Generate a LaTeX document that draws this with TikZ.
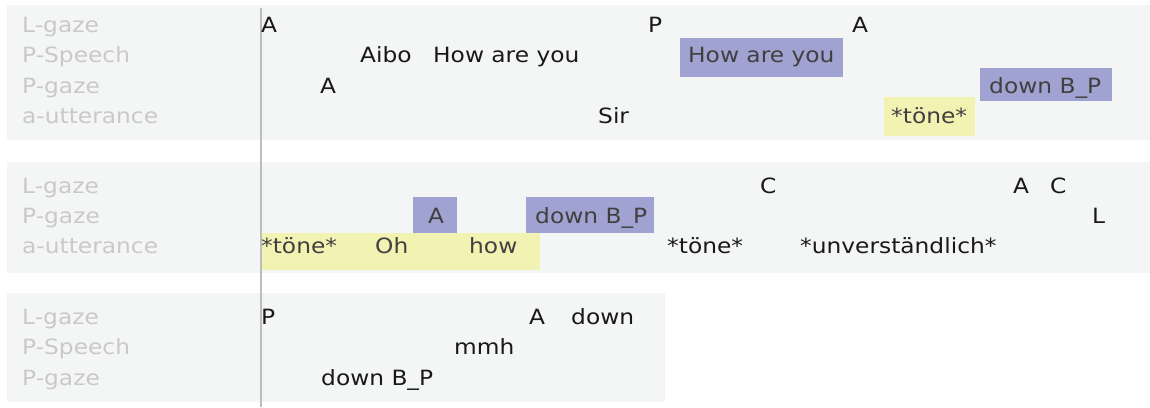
\documentclass[tikz,border=0pt]{standalone}
\usepackage{fontspec}
\setmainfont{DejaVu Sans}[FakeStretch=1.11]
\definecolor{bandgray}{HTML}{F4F5F5}
\definecolor{lablgray}{HTML}{C9C9C9}
\definecolor{segblue}{HTML}{A0A3D1}
\definecolor{segyellow}{HTML}{F2F2B3}
\definecolor{ticgray}{HTML}{BDBDBD}
\tikzstyle{every picture} = [x=1pt, y=-1pt]
\tikzstyle{tier} = [anchor=base west, inner sep=0pt, text=lablgray, font=\fontsize{21}{25}\selectfont]
\tikzstyle{tok} = [anchor=base west, inner sep=0pt, text=black!90, font=\fontsize{21}{25}\selectfont]
\tikzstyle{boxtok} = [tok, text=black!75]

\begin{document}
\begin{tikzpicture}
            \useasboundingbox (0,0) rectangle (1150,407);
            % bands
            \fill[bandgray] (7,5) rectangle (1150,140);
            \fill[bandgray] (7,162) rectangle (1150,273);
            \fill[bandgray] (7,293) rectangle (665,402);
            % highlighted segments
            \fill[segblue] (680,38) rectangle (843,77);
            \fill[segblue] (980,68) rectangle (1112,101);
            \fill[segyellow] (884,97) rectangle (975,136);
            \fill[segblue] (413,197) rectangle (457,233);
            \fill[segblue] (526,197) rectangle (654,233);
            \fill[segyellow] (261,233) rectangle (540,270);
            % time cursor
            \draw[ticgray, line width=1.6pt] (261,8) -- (261,407);

            % tier names
            \node (lab 1) at(22,32) [tier] {L-gaze};
            \node (lab 2) at(22,62) [tier] {P-Speech};
            \node (lab 3) at(22,93) [tier] {P-gaze};
            \node (lab 4) at(22,123) [tier] {a-utterance};
            \node (lab 5) at(22,193) [tier] {L-gaze};
            \node (lab 6) at(22,223) [tier] {P-gaze};
            \node (lab 7) at(22,253) [tier] {a-utterance};
            \node (lab 8) at(22,324) [tier] {L-gaze};
            \node (lab 9) at(22,354) [tier] {P-Speech};
            \node (lab 10) at(22,385) [tier] {P-gaze};

            % band 1
            \node (ev 1) at(261,32) [tok] {A};
            \node (ev 2) at(648,32) [tok] {P};
            \node (ev 3) at(852,32) [tok] {A};
            \node (ev 4) at(360,62) [tok] {Aibo};
            \node (ev 5) at(433,62) [tok] {How are you};
            \node (ev 6) at(688,62) [boxtok] {How are you};
            \node (ev 7) at(320,93) [tok] {A};
            \node (ev 8) at(989,93) [boxtok] {down B\_P};
            \node (ev 9) at(598,123) [tok] {Sir};
            \node (ev 10) at(891,123) [boxtok] {*töne*};

            % band 2
            \node (ev 11) at(760,193) [tok] {C};
            \node (ev 12) at(1013,193) [tok] {A};
            \node (ev 13) at(1050,193) [tok] {C};
            \node (ev 14) at(428,223) [boxtok] {A};
            \node (ev 15) at(535,223) [boxtok] {down B\_P};
            \node (ev 16) at(1092,223) [tok] {L};
            \node (ev 17) at(261,253) [boxtok] {*töne*};
            \node (ev 18) at(375,253) [boxtok] {Oh};
            \node (ev 19) at(469,253) [boxtok] {how};
            \node (ev 20) at(667,253) [tok] {*töne*};
            \node (ev 21) at(800,253) [tok] {*unverständlich*};

            % band 3
            \node (ev 22) at(261,324) [tok] {P};
            \node (ev 23) at(529,324) [tok] {A};
            \node (ev 24) at(571,324) [tok] {down};
            \node (ev 25) at(454,354) [tok] {mmh};
            \node (ev 26) at(321,385) [tok] {down B\_P};
        \end{tikzpicture}
\end{document}
